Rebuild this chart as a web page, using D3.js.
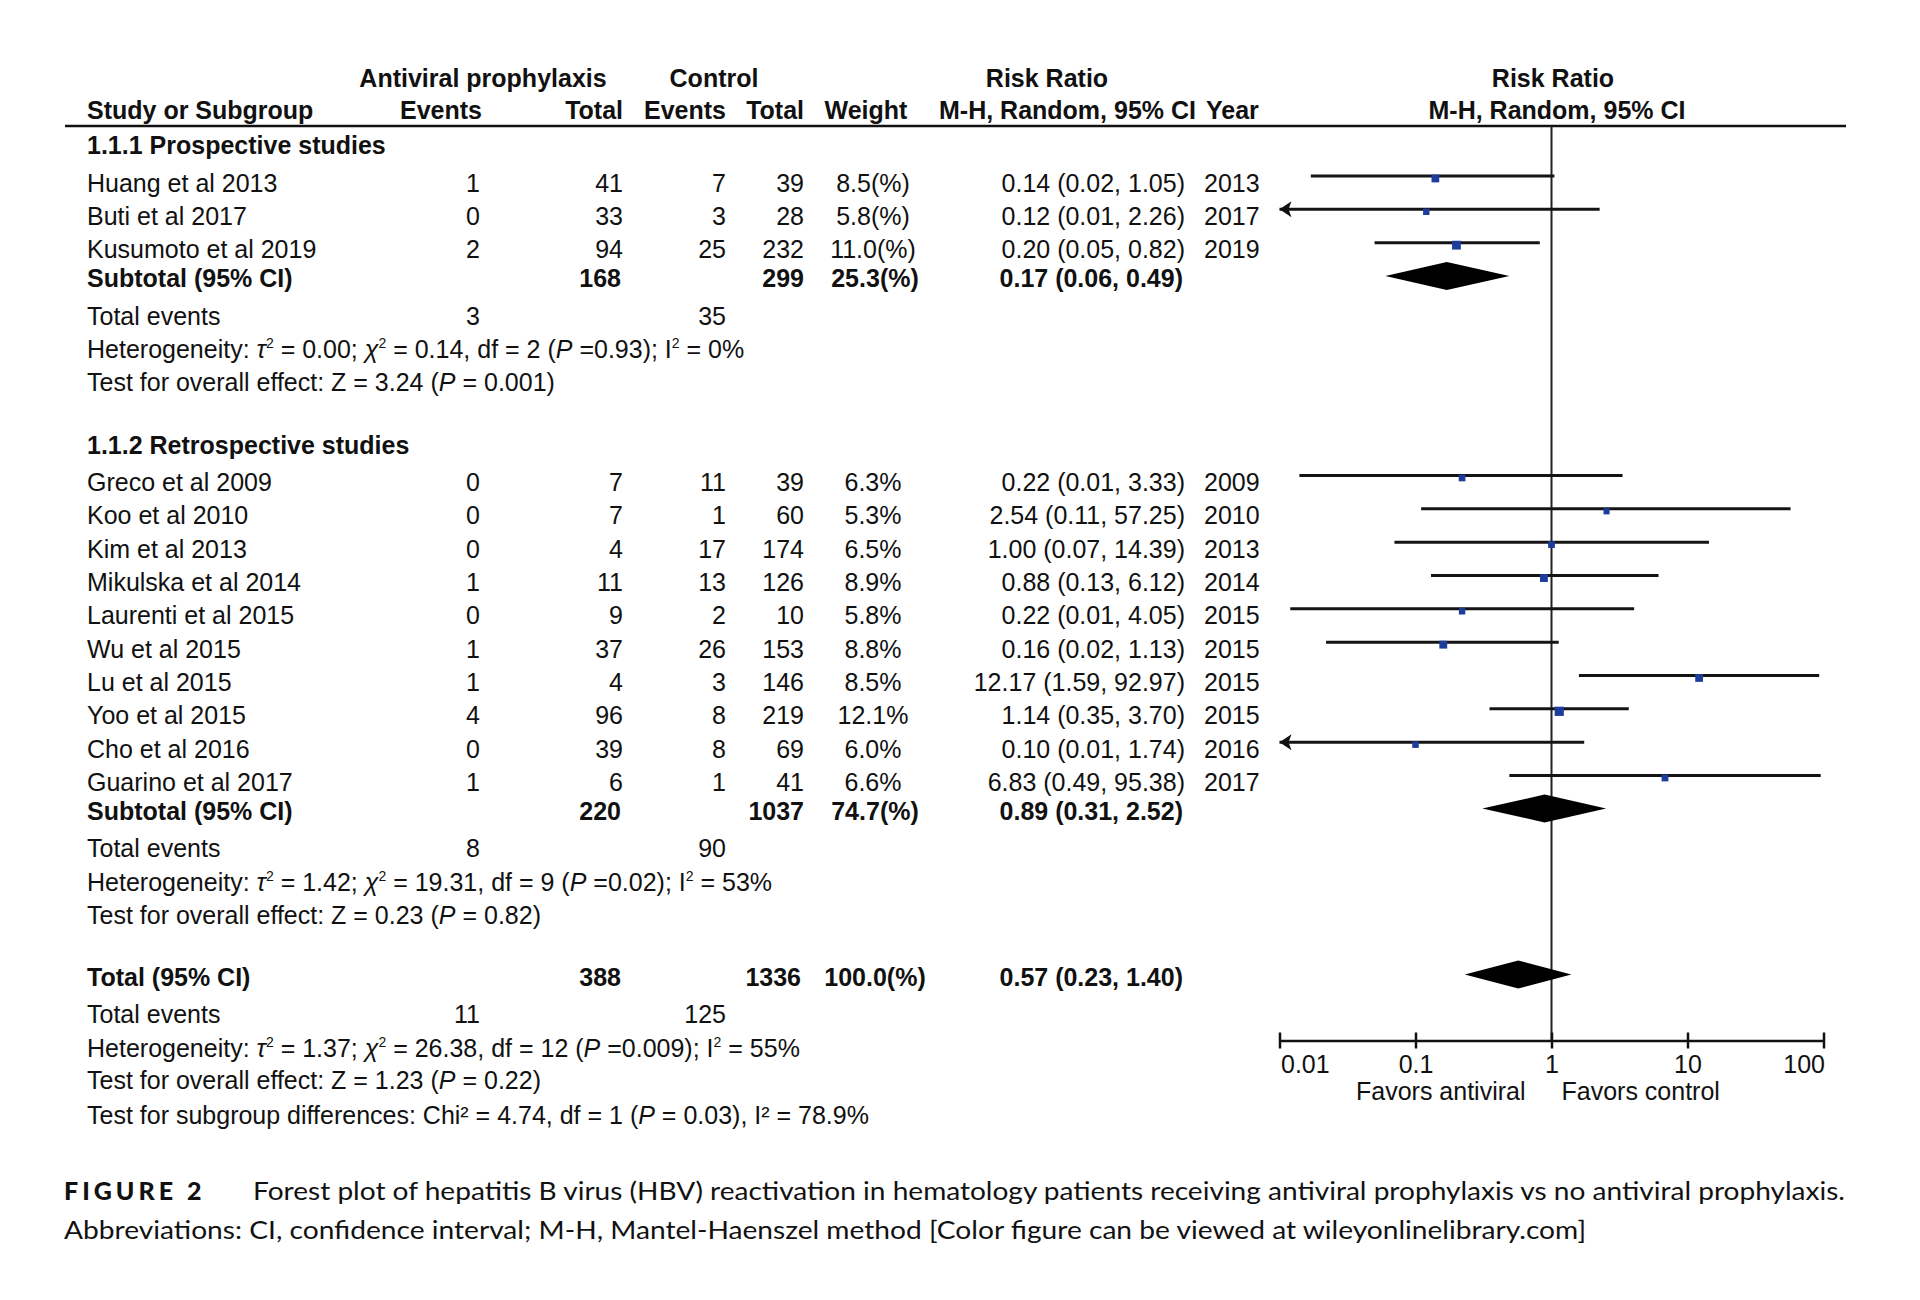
<!DOCTYPE html>
<html><head><meta charset="utf-8">
<script src="https://cdn.jsdelivr.net/npm/d3@7"></script>
<style>
body{margin:0;background:#fff}
svg text{font-family:"Liberation Sans",Arial,Helvetica,sans-serif;fill:#111;font-size:25px}
</style>
</head><body><svg id="c" width="1920" height="1300"></svg>
<script>
// ---------------- DATA ----------------
const studyNames = ["Huang et al 2013","Buti et al 2017","Kusumoto et al 2019","Greco et al 2009","Koo et al 2010","Kim et al 2013","Mikulska et al 2014","Laurenti et al 2015","Wu et al 2015","Lu et al 2015","Yoo et al 2015","Cho et al 2016","Guarino et al 2017"];
const studyGroup = [0,0,0,1,1,1,1,1,1,1,1,1,1];
const antiviralEvents = [1,0,2,0,0,0,1,0,1,1,4,0,1];
const antiviralTotal = [41,33,94,7,7,4,11,9,37,4,96,39,6];
const controlEvents = [7,3,25,11,1,17,13,2,26,3,8,8,1];
const controlTotal = [39,28,232,39,60,174,126,10,153,146,219,69,41];
const weights = [8.5,5.8,11.0,6.3,5.3,6.5,8.9,5.8,8.8,8.5,12.1,6.0,6.6];
const riskRatio = [0.14,0.12,0.20,0.22,2.54,1.00,0.88,0.22,0.16,12.17,1.14,0.10,6.83];
const ciLower = [0.017,0.006,0.05,0.014,0.11,0.07,0.13,0.012,0.022,1.59,0.35,0.006,0.49];
const ciUpper = [1.05,2.26,0.82,3.33,57.25,14.39,6.12,4.05,1.13,92.97,3.70,1.74,95.38];
const years = [2013,2017,2019,2009,2010,2013,2014,2015,2015,2015,2015,2016,2017];

const subgroupTitles = ["1.1.1 Prospective studies","1.1.2 Retrospective studies"];
const subAntiviralTotal = [168,220];
const subControlTotal = [299,1037];
const subWeight = [25.3,74.7];
const subRR = [0.17,0.89];
const subLower = [0.06,0.31];
const subUpper = [0.49,2.52];
const subAntiviralEvents = [3,8];
const subControlEvents = [35,90];

// index 0: prospective, 1: retrospective, 2: overall
const hetTau2 = ["0.00","1.42","1.37"];
const hetChi2 = ["0.14","19.31","26.38"];
const hetDf = [2,9,12];
const hetP = ["0.93","0.02","0.009"];
const hetI2 = [0,53,55];
const effectZ = ["3.24","0.23","1.23"];
const effectP = ["0.001","0.82","0.22"];

const totalAntiviral = 388, totalControl = 1336, totalWeight = 100.0;
const totalRR = 0.57, totalLower = 0.23, totalUpper = 1.40;
const totalAntiviralEvents = 11, totalControlEvents = 125;
const subgroupDiff = {chi2:"4.74", df:1, p:"0.03", i2:"78.9"};

const axisTicks = [0.01,0.1,1,10,100];
const axisTickLabels = ["0.01","0.1","1","10","100"];
const favorsLabels = ["Favors antiviral","Favors control"];
const captionTitle = "FIGURE 2";
const captionLine1 = "Forest plot of hepatitis B virus (HBV) reactivation in hematology patients receiving antiviral prophylaxis vs no antiviral prophylaxis.";
const captionLine2 = "Abbreviations: CI, confidence interval; M-H, Mantel-Haenszel method [Color figure can be viewed at wileyonlinelibrary.com]";

// ---------------- LAYOUT ----------------
const svg = d3.select("#c");
const col = {name:87, avEv:480, avTot:623, ctEv:726, ctTot:804, weight:873, ci:1185, year:1204};
const x = d3.scaleLog().domain([0.01,100]).range([1279.5,1823.5]);
const rowH = 33.33;
const base = 9; // center -> baseline
const yTitle = [145, 445];
const yFirstStudy = [182.5, 482];
const ySub = [278, 810.5], yTE = [316, 848], yHet = [348.5, 881.5], yTest = [382, 914.5];
const yTotal = 976.5, yTotTE = 1013.5, yTotHet = 1047.5, yTotTest = 1080, ySubDiff = 1114.5;
const headerLineY = 126, axisY = 1040.5;
const sqColor = "#1d3c9c";

function t(x, y, s, anchor="start", weight="normal"){
  return svg.append("text").attr("x",x).attr("y",y).attr("text-anchor",anchor)
    .attr("font-weight",weight).text(s);
}
// rich text: parts [str, kind] kind: undefined | "i" | "sup"
function rich(x, y, parts){
  const el = svg.append("text").attr("x",x).attr("y",y);
  let shifted = false;
  parts.forEach(p=>{
    const ts = el.append("tspan").text(p[0]);
    if(p[1]==="i") ts.attr("font-style","italic");
    if(p[1]==="sup"){ ts.attr("font-size",14).attr("dy",-10); shifted = true; }
    else if(shifted){ ts.attr("dy",10); shifted=false; }
  });
  return el;
}
const fmtW = (w, paren) => w.toFixed(1) + (paren ? "(%)" : "%");
const fmtCI = (r,l,h) => `${r.toFixed(2)} (${l.toFixed(2)}, ${h.toFixed(2)})`;

// ---------------- HEADER ----------------
t(483, 87, "Antiviral prophylaxis", "middle", "bold");
t(714, 87, "Control", "middle", "bold");
t(1047, 87, "Risk Ratio", "middle", "bold");
t(1553, 87, "Risk Ratio", "middle", "bold");
t(col.name, 119, "Study or Subgroup", "start", "bold");
t(col.avEv+2, 119, "Events", "end", "bold");
t(col.avTot, 119, "Total", "end", "bold");
t(col.ctEv, 119, "Events", "end", "bold");
t(col.ctTot, 119, "Total", "end", "bold");
t(866, 119, "Weight", "middle", "bold");
t(939, 119, "M-H, Random, 95% CI", "start", "bold");
t(1206, 119, "Year", "start", "bold");
t(1557, 119, "M-H, Random, 95% CI", "middle", "bold");
svg.append("line").attr("x1",65).attr("x2",1846).attr("y1",headerLineY).attr("y2",headerLineY)
  .attr("stroke","#111").attr("stroke-width",2.5);

// vertical line of no effect
svg.append("line").attr("x1",x(1)).attr("x2",x(1)).attr("y1",headerLineY).attr("y2",axisY)
  .attr("stroke","#222").attr("stroke-width",2);

// ---------------- SUBGROUPS ----------------
[0,1].forEach(g=>{
  t(col.name, yTitle[g]+base, subgroupTitles[g], "start", "bold");
  const idx = studyNames.map((d,i)=>i).filter(i=>studyGroup[i]===g);
  idx.forEach((i,k)=>{
    const yc = yFirstStudy[g] + k*rowH, yb = yc + base;
    t(col.name, yb, studyNames[i]);
    t(col.avEv, yb, antiviralEvents[i], "end");
    t(col.avTot, yb, antiviralTotal[i], "end");
    t(col.ctEv, yb, controlEvents[i], "end");
    t(col.ctTot, yb, controlTotal[i], "end");
    t(col.weight, yb, fmtW(weights[i], g===0), "middle");
    t(col.ci, yb, fmtCI(riskRatio[i], ciLower[i], ciUpper[i]), "end");
    t(col.year, yb, years[i]);
    // forest mark
    const ly = yc - 6.5;
    const lo = Math.max(ciLower[i], 0.01), hi = Math.min(ciUpper[i], 100);
    svg.append("line").attr("x1",x(lo)).attr("x2",x(hi)).attr("y1",ly).attr("y2",ly)
      .attr("stroke","#141414").attr("stroke-width",3);
    if(ciLower[i] < 0.01){
      const x0 = x(0.01);
      svg.append("path").attr("d",`M${x0},${ly} L${x0+12},${ly-8} L${x0+9},${ly} L${x0+12},${ly+8} Z`)
        .attr("fill","#111");
    }
    const s = 2.65*Math.sqrt(weights[i]);
    svg.append("rect").attr("x",x(riskRatio[i])-s/2).attr("y",ly+2.5-s/2)
      .attr("width",s).attr("height",s).attr("fill",sqColor);
  });
  // subtotal
  const yb = ySub[g]+base;
  t(col.name, yb, "Subtotal (95% CI)", "start", "bold");
  t(col.avTot-2, yb, subAntiviralTotal[g], "end", "bold");
  t(col.ctTot, yb, subControlTotal[g], "end", "bold");
  t(col.weight+2, yb, fmtW(subWeight[g], true), "middle", "bold");
  t(col.ci-2, yb, fmtCI(subRR[g], subLower[g], subUpper[g]), "end", "bold");
  const dy = ySub[g]-2;
  svg.append("path").attr("d",`M${x(subLower[g])},${dy} L${x(subRR[g])},${dy-14} L${x(subUpper[g])},${dy} L${x(subRR[g])},${dy+14} Z`)
    .attr("fill","#000");
  t(col.name, yTE[g]+base, "Total events");
  t(col.avEv, yTE[g]+base, subAntiviralEvents[g], "end");
  t(col.ctEv, yTE[g]+base, subControlEvents[g], "end");
  rich(col.name, yHet[g]+base, [["Heterogeneity: "],["τ","i"],["2","sup"],[` = ${hetTau2[g]}; `],["χ","i"],["2","sup"],
    [` = ${hetChi2[g]}, df = ${hetDf[g]} (`],["P","i"],[` =${hetP[g]}); I`],["2","sup"],[` = ${hetI2[g]}%`]]);
  rich(col.name, yTest[g]+base, [[`Test for overall effect: Z = ${effectZ[g]} (`],["P","i"],[` = ${effectP[g]})`]]);
});

// ---------------- TOTAL ----------------
{
  const yb = yTotal + base;
  t(col.name, yb, "Total (95% CI)", "start", "bold");
  t(col.avTot-2, yb, totalAntiviral, "end", "bold");
  t(col.ctTot-3, yb, totalControl, "end", "bold");
  t(col.weight+2, yb, fmtW(totalWeight, true), "middle", "bold");
  t(col.ci-2, yb, fmtCI(totalRR, totalLower, totalUpper), "end", "bold");
  const dy = yTotal-2;
  svg.append("path").attr("d",`M${x(totalLower)},${dy} L${x(totalRR)},${dy-14} L${x(totalUpper)},${dy} L${x(totalRR)},${dy+14} Z`)
    .attr("fill","#000");
  t(col.name, yTotTE+base, "Total events");
  t(col.avEv, yTotTE+base, totalAntiviralEvents, "end");
  t(col.ctEv, yTotTE+base, totalControlEvents, "end");
  rich(col.name, yTotHet+base, [["Heterogeneity: "],["τ","i"],["2","sup"],[` = ${hetTau2[2]}; `],["χ","i"],["2","sup"],
    [` = ${hetChi2[2]}, df = ${hetDf[2]} (`],["P","i"],[` =${hetP[2]}); I`],["2","sup"],[` = ${hetI2[2]}%`]]);
  rich(col.name, yTotTest+base, [[`Test for overall effect: Z = ${effectZ[2]} (`],["P","i"],[` = ${effectP[2]})`]]);
  rich(col.name, ySubDiff+base, [[`Test for subgroup differences: Chi² = ${subgroupDiff.chi2}, df = ${subgroupDiff.df} (`],["P","i"],
    [` = ${subgroupDiff.p}), I² = ${subgroupDiff.i2}%`]]);
}

// ---------------- AXIS ----------------
const axis = d3.axisBottom(x).tickValues(axisTicks).tickFormat((d,i)=>axisTickLabels[i])
  .tickSizeInner(8).tickSizeOuter(0).tickPadding(16);
const ag = svg.append("g").attr("transform",`translate(0,${axisY})`).call(axis);
ag.select(".domain").attr("stroke","#111").attr("stroke-width",2.5);
ag.selectAll(".tick line").attr("y1",-8).attr("y2",8).attr("stroke","#111").attr("stroke-width",2.5);
ag.selectAll(".tick text").attr("font-size",25).attr("font-family","Liberation Sans, Arial, sans-serif")
  .attr("fill","#111").attr("dy",null).attr("y",32.5)
  .attr("text-anchor",(d,i)=> i===0 ? "start" : (i===axisTicks.length-1 ? "end" : "middle"))
  .attr("x",(d,i)=> i===0 ? 1 : (i===axisTicks.length-1 ? 1 : 0));
t(x(1)-26, 1100, favorsLabels[0], "end");
t(x(1)+10, 1100, favorsLabels[1], "start");

// ---------------- CAPTION ----------------
const cap = svg.append("g");
cap.append("text").attr("x",64).attr("y",1200).attr("font-weight",900).attr("letter-spacing",4)
  .attr("font-size",28).style("font-family","Lato, sans-serif").attr("fill","#111").text(captionTitle);
cap.append("text").attr("x",253).attr("y",1200).attr("font-size",25.5).style("font-family","Lato, sans-serif")
  .attr("fill","#1a1a1a").attr("textLength",1592).attr("lengthAdjust","spacingAndGlyphs").text(captionLine1);
cap.append("text").attr("x",64).attr("y",1239).attr("font-size",25.5).style("font-family","Lato, sans-serif")
  .attr("fill","#1a1a1a").attr("textLength",1522).attr("lengthAdjust","spacingAndGlyphs").text(captionLine2);
</script></body></html>
